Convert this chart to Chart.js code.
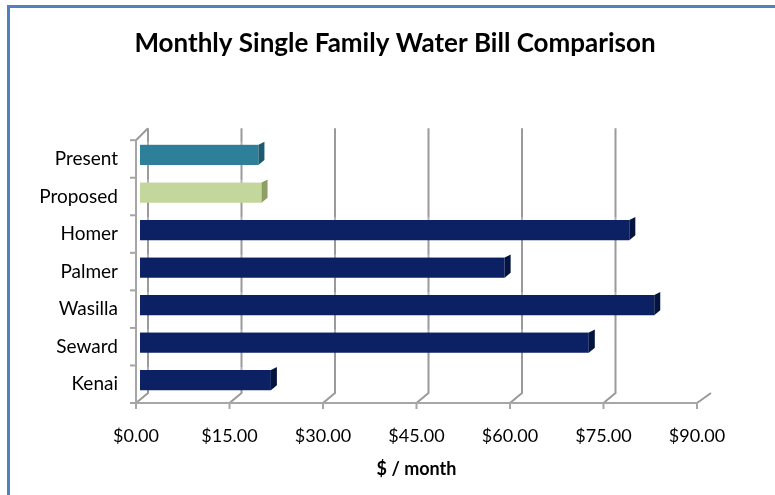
<!DOCTYPE html>
<html>
<head>
<meta charset="utf-8">
<script src="https://cdn.jsdelivr.net/npm/chart.js@4.4.1/dist/chart.umd.min.js"></script>
<style>
  html, body { margin: 0; padding: 0; background: #fff; overflow: hidden; }
  #frame { position: absolute; left: 7px; top: 5px; width: 800px; height: 520px;
           border-top: 3px solid #4f81bd; border-left: 3px solid #4f81bd; }
  #myChart_agua { position: absolute; left: 0; top: 0; }
</style>
</head>
<body>
<div id="frame"></div>
<canvas id="myChart_agua" width="775" height="495"></canvas>
<script>
/* datos */
var towns = ['Present', 'Proposed', 'Homer', 'Palmer', 'Wasilla', 'Seward', 'Kenai'];
var bill = [19, 19.5, 78.5, 58.5, 82.5, 72, 21];
var barColors = ['#2e7f99', '#c3d69b', '#0b2163', '#0b2163', '#0b2163', '#0b2163', '#0b2163'];
var sideColors = ['#1d5a6d', '#8d9f66', '#05143f', '#05143f', '#05143f', '#05143f', '#05143f'];
var xTicks = [0, 15, 30, 45, 60, 75, 90];

var FONT = 'Lato, Calibri, sans-serif';

/* 3d look: back walls, grid and bar ends */
var depth = { dx: 12, dy: -10 };
var shift = 4;

var fake3d = {
  id: 'fake3d',
  beforeDatasetsDraw: function (chart) {
    var c = chart.ctx, a = chart.chartArea;
    var xs = chart.scales.x;
    c.save();
    c.strokeStyle = '#9a9a9a';
    c.lineWidth = 2;
    xTicks.forEach(function (v, i) {
      var x = xs.getPixelForValue(v);
      c.beginPath();
      if (i < xTicks.length - 1) {
        c.moveTo(x + depth.dx, a.top - 12);
        c.lineTo(x + depth.dx, a.bottom + depth.dy);
      } else {
        c.moveTo(x + depth.dx + 2, a.bottom + depth.dy);
      }
      c.lineTo(x, a.bottom);
      c.stroke();
    });
    // left wall top corner
    c.beginPath();
    c.moveTo(a.left, a.top);
    c.lineTo(a.left + depth.dx, a.top - 12);
    c.stroke();
    // front axes
    c.strokeStyle = '#a6a6a6';
    c.beginPath();
    c.moveTo(a.left, a.top);
    c.lineTo(a.left, a.bottom);
    c.lineTo(a.right, a.bottom);
    c.stroke();
    xTicks.forEach(function (v) {
      var x = xs.getPixelForValue(v);
      c.beginPath();
      c.moveTo(x, a.bottom);
      c.lineTo(x, a.bottom + 6);
      c.stroke();
    });
    var step = (a.bottom - a.top) / towns.length;
    for (var k = 0; k <= towns.length; k++) {
      c.beginPath();
      c.moveTo(a.left - 6, a.top + k * step);
      c.lineTo(a.left, a.top + k * step);
      c.stroke();
    }
    c.restore();
    c.save();
    c.translate(shift, -shift);
  },
  afterDatasetsDraw: function (chart) {
    var c = chart.ctx;
    var meta = chart.getDatasetMeta(0);
    meta.data.forEach(function (bar, i) {
      var p = bar.getProps(['x', 'y', 'base', 'height'], true);
      var t = p.y - p.height / 2, b = p.y + p.height / 2;
      c.fillStyle = sideColors[i];
      c.beginPath();
      c.moveTo(p.x, t);
      c.lineTo(p.x + 6, t - 3);
      c.lineTo(p.x + 6, b - 5);
      c.lineTo(p.x, b);
      c.closePath();
      c.fill();
      c.fillStyle = 'rgba(255,255,255,0.25)';
      c.beginPath();
      c.moveTo(p.base, t);
      c.lineTo(p.base + 3, t - 3);
      c.lineTo(p.x + 6, t - 3);
      c.lineTo(p.x, t);
      c.closePath();
      c.fill();
    });
    c.restore();
  }
};

var ctx = document.getElementById('myChart_agua');
var myChart = new Chart(ctx, {
  type: 'bar',
  data: {
    labels: towns,
    datasets: [
      {
        data: bill,
        backgroundColor: barColors,
        borderWidth: 0,
        barPercentage: 0.54,
        categoryPercentage: 1
      }
    ]
  },
  options: {
    indexAxis: 'y',
    responsive: false,
    animation: false,
    layout: { padding: { left: 15, right: 0, top: 0, bottom: 0 } },
    plugins: {
      legend: { display: false },
      tooltip: { enabled: false },
      title: {
        display: true,
        text: 'Monthly Single Family Water Bill Comparison',
        color: '#000',
        font: { family: FONT, size: 26, weight: 'bold' },
        padding: { top: 28, bottom: 81 }
      }
    },
    scales: {
      x: {
        min: 0,
        max: 90,
        afterBuildTicks: function (axis) {
          axis.ticks = xTicks.map(function (v) { return { value: v }; });
        },
        afterFit: function (axis) { axis.height = 92; },
        grid: { display: false, drawTicks: false },
        border: { display: false },
        ticks: {
          color: '#000',
          padding: 22,
          maxRotation: 0,
          font: { family: FONT, size: 18 },
          callback: function (v) { return '$' + Number(v).toFixed(2); }
        },
        title: {
          display: true,
          text: '$ / month',
          color: '#000',
          font: { family: FONT, size: 18, weight: 'bold' },
          padding: { top: 4, bottom: 15 }
        }
      },
      y: {
        afterFit: function (axis) { axis.width = 121; },
        grid: { display: false, drawTicks: false },
        border: { display: false },
        ticks: {
          color: '#000',
          padding: 18,
          font: { family: FONT, size: 19 }
        }
      },
      // empty space on the right, keeps the title centred on the whole box
      y2: {
        type: 'category',
        position: 'right',
        labels: towns,
        afterFit: function (axis) { axis.width = 78; },
        grid: { display: false, drawTicks: false },
        border: { display: false },
        ticks: { display: false }
      }
    }
  },
  plugins: [fake3d]
});
</script>
</body>
</html>
